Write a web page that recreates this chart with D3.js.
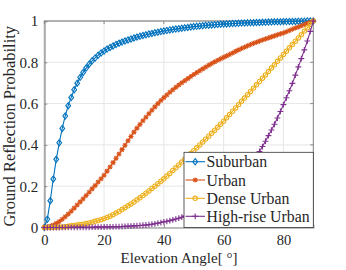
<!DOCTYPE html>
<html><head><meta charset="utf-8">
<script src="https://cdn.jsdelivr.net/npm/d3@7"></script>
<style>
html,body{margin:0;padding:0;background:#fff;}
svg{display:block;}
text{font-family:"Liberation Serif","Times New Roman",serif;fill:#262626;}
</style></head>
<body>
<svg id="chart" width="346" height="270"></svg>
<script>
const angles = d3.range(0, 91);
const xTicks = [0, 20, 40, 60, 80];
const yTicks = [0, 0.2, 0.4, 0.6, 0.8, 1];
const yTickLabels = ["0", "0.2", "0.4", "0.6", "0.8", "1"];
const seriesNames = ["Suburban", "Urban", "Dense Urban", "High-rise Urban"];

const suburban = [0,0.04,0.13,0.235,0.33,0.41,0.48,0.54,0.59,0.63,
0.667,0.699,0.727,0.751,0.772,0.791,0.807,0.821,0.834,0.845,
0.855,0.864,0.872,0.879,0.886,0.892,0.898,0.903,0.908,0.913,
0.918,0.922,0.926,0.930,0.933,0.937,0.940,0.943,0.946,0.949,
0.952,0.954,0.957,0.959,0.961,0.963,0.965,0.967,0.969,0.971,
0.973,0.974,0.976,0.977,0.979,0.980,0.981,0.982,0.983,0.984,
0.985,0.986,0.987,0.988,0.988,0.989,0.990,0.990,0.991,0.992,
0.992,0.993,0.993,0.994,0.994,0.995,0.995,0.996,0.996,0.996,
0.997,0.997,0.998,0.998,0.998,0.999,0.999,0.999,1,1,1];

const urban = [0,0.002,0.006,0.012,0.02,0.029,0.04,0.052,0.065,0.079,
0.094,0.109,0.124,0.139,0.155,0.171,0.187,0.203,0.22,0.236,
0.253,0.273,0.293,0.314,0.335,0.356,0.377,0.398,0.42,0.441,
0.462,0.481,0.499,0.517,0.534,0.551,0.568,0.584,0.6,0.615,
0.629,0.642,0.655,0.667,0.679,0.69,0.701,0.711,0.721,0.731,
0.741,0.75,0.759,0.768,0.777,0.786,0.794,0.802,0.81,0.817,
0.824,0.831,0.838,0.845,0.853,0.86,0.867,0.873,0.880,0.886,
0.892,0.897,0.903,0.908,0.913,0.918,0.923,0.928,0.933,0.938,
0.942,0.948,0.954,0.96,0.966,0.971,0.977,0.983,0.989,0.994,1];

const denseUrban = [0,0.0002,0.0005,0.001,0.0015,0.002,0.003,0.004,0.006,0.008,
0.01,0.012,0.014,0.016,0.019,0.022,0.026,0.03,0.034,0.038,
0.043,0.049,0.055,0.062,0.07,0.078,0.087,0.096,0.105,0.114,
0.123,0.134,0.144,0.155,0.166,0.177,0.189,0.2,0.212,0.224,
0.236,0.249,0.262,0.276,0.289,0.303,0.317,0.331,0.344,0.358,
0.372,0.386,0.4,0.414,0.428,0.442,0.456,0.471,0.485,0.5,
0.515,0.531,0.547,0.563,0.579,0.595,0.611,0.627,0.643,0.659,
0.675,0.691,0.707,0.723,0.739,0.755,0.772,0.788,0.805,0.821,
0.838,0.854,0.87,0.886,0.902,0.918,0.934,0.951,0.967,0.984,1];

const highRiseUrban = [0,0,0,0,0.0001,0.0001,0.0002,0.0002,0.0003,0.0004,
0.0005,0.0006,0.0007,0.0008,0.001,0.0012,0.0014,0.0016,0.0018,0.002,
0.0023,0.0026,0.003,0.0034,0.0038,0.0043,0.0049,0.0055,0.0062,0.007,
0.008,0.009,0.01,0.011,0.012,0.014,0.016,0.018,0.021,0.024,
0.027,0.03,0.033,0.037,0.041,0.045,0.05,0.055,0.06,0.066,
0.072,0.079,0.086,0.094,0.102,0.11,0.119,0.129,0.14,0.152,
0.165,0.178,0.191,0.205,0.22,0.236,0.253,0.27,0.288,0.306,
0.325,0.345,0.368,0.392,0.418,0.445,0.472,0.5,0.53,0.562,
0.595,0.628,0.662,0.698,0.738,0.778,0.818,0.86,0.903,0.95,1];

const seriesValues = [suburban, urban, denseUrban, highRiseUrban];
const colors = ["#0072BD", "#D95319", "#EDB120", "#7E2F8E"];
const markerTypes = ["diamond", "asterisk", "circle", "plus"];

const svg = d3.select("#chart");
const L = 44.3, R = 313.3, T = 21, B = 227.5;
const x = d3.scaleLinear().domain([0, 90]).range([L, R]);
const y = d3.scaleLinear().domain([0, 1]).range([B, T]);

svg.append("rect").attr("x", L).attr("y", T).attr("width", R - L).attr("height", B - T).attr("fill", "#fff");

const grid = svg.append("g");
grid.selectAll(".gx").data(xTicks).join("line")
  .attr("x1", d => x(d)).attr("x2", d => x(d)).attr("y1", T).attr("y2", B)
  .attr("stroke", "#e6e6e6").attr("stroke-width", 1);
grid.selectAll(".gy").data(yTicks).join("line")
  .attr("y1", d => y(d)).attr("y2", d => y(d)).attr("x1", L).attr("x2", R)
  .attr("stroke", "#e6e6e6").attr("stroke-width", 1);

svg.append("line").attr("x1", L).attr("x2", R).attr("y1", T).attr("y2", T).attr("stroke", "#707070").attr("stroke-width", 1);
svg.append("line").attr("x1", R).attr("x2", R).attr("y1", T).attr("y2", B).attr("stroke", "#808080").attr("stroke-width", 1);

const xAxis = d3.axisBottom(x).tickValues(xTicks).tickSize(-3).tickPadding(7.5).tickFormat(d3.format("d"));
const gx = svg.append("g").attr("transform", `translate(0,${B})`).call(xAxis);
gx.select(".domain").attr("stroke", "#aaaaaa").attr("stroke-width", 1.5);
gx.selectAll(".tick line").attr("stroke", "#888");
gx.selectAll(".tick text").attr("font-size", 14.5).attr("fill", "#262626").attr("font-family", "Liberation Serif");

const yAxis = d3.axisLeft(y).tickValues(yTicks).tickSize(-3).tickPadding(6).tickFormat((d, i) => yTickLabels[i]);
const gy = svg.append("g").attr("transform", `translate(${L},0)`).call(yAxis);
gy.select(".domain").attr("stroke", "#aaaaaa").attr("stroke-width", 2);
gy.selectAll(".tick line").attr("stroke", "#888");
gy.selectAll(".tick text").attr("font-size", 15).attr("fill", "#262626").attr("font-family", "Liberation Serif");

svg.append("g").selectAll("line").data(yTicks).join("line")
  .attr("x1", R).attr("x2", R - 3).attr("y1", d => y(d)).attr("y2", d => y(d)).attr("stroke", "#888");
svg.append("g").selectAll("line").data(xTicks).join("line")
  .attr("x1", d => x(d)).attr("x2", d => x(d)).attr("y1", T).attr("y2", T + 3).attr("stroke", "#888");

function markerPath(type) {
  if (type === "diamond") return "M0,-3.1L2.4,0L0,3.1L-2.4,0Z";
  if (type === "circle") return d3.symbol(d3.symbolCircle, 15)();
  if (type === "plus") return "M-2.9,0H2.9M0,-2.9V2.9";
  if (type === "asterisk") return "M-2.6,0H2.6M0,-2.6V2.6M-1.9,-1.9L1.9,1.9M-1.9,1.9L1.9,-1.9";
}

const line = d3.line().x((d, i) => x(angles[i])).y(d => y(d));

seriesValues.forEach((vals, si) => {
  const g = svg.append("g");
  g.append("path").attr("d", line(vals)).attr("fill", "none")
    .attr("stroke", colors[si]).attr("stroke-width", 1.1);
  g.selectAll("path.m").data(vals).join("path").attr("class", "m")
    .attr("d", markerPath(markerTypes[si]))
    .attr("transform", (d, i) => `translate(${x(angles[i])},${y(d)})`)
    .attr("fill", "none").attr("stroke", colors[si]).attr("stroke-width", 1.1);
});

const lg = svg.append("g");
const lgX = 184, lgY = 152.3, lgW = R - 184, lgH = B - 152.3;
lg.append("rect").attr("x", lgX).attr("y", lgY).attr("width", lgW).attr("height", lgH)
  .attr("fill", "#fff").attr("stroke", "#333").attr("stroke-width", 0.8);
const rowY = [161.7, 180, 198.3, 216.3];
seriesNames.forEach((name, i) => {
  lg.append("line").attr("x1", 185.5).attr("x2", 205).attr("y1", rowY[i]).attr("y2", rowY[i])
    .attr("stroke", colors[i]).attr("stroke-width", 1.1);
  lg.append("path").attr("d", markerPath(markerTypes[i]))
    .attr("transform", `translate(195.2,${rowY[i]})`)
    .attr("fill", "none").attr("stroke", colors[i]).attr("stroke-width", 1.1);
  lg.append("text").attr("x", 206.5).attr("y", rowY[i]).attr("dy", "0.35em")
    .attr("font-size", 15.8).text(name);
});

svg.append("text").attr("x", 179).attr("y", 263).attr("text-anchor", "middle")
  .attr("font-size", 15).text("Elevation Angle[ °]");
svg.append("text").attr("transform", `translate(15,${(T + B) / 2 + 2}) rotate(-90)`)
  .attr("text-anchor", "middle").attr("font-size", 16.5).text("Ground Reflection Probability");
</script>
</body></html>
